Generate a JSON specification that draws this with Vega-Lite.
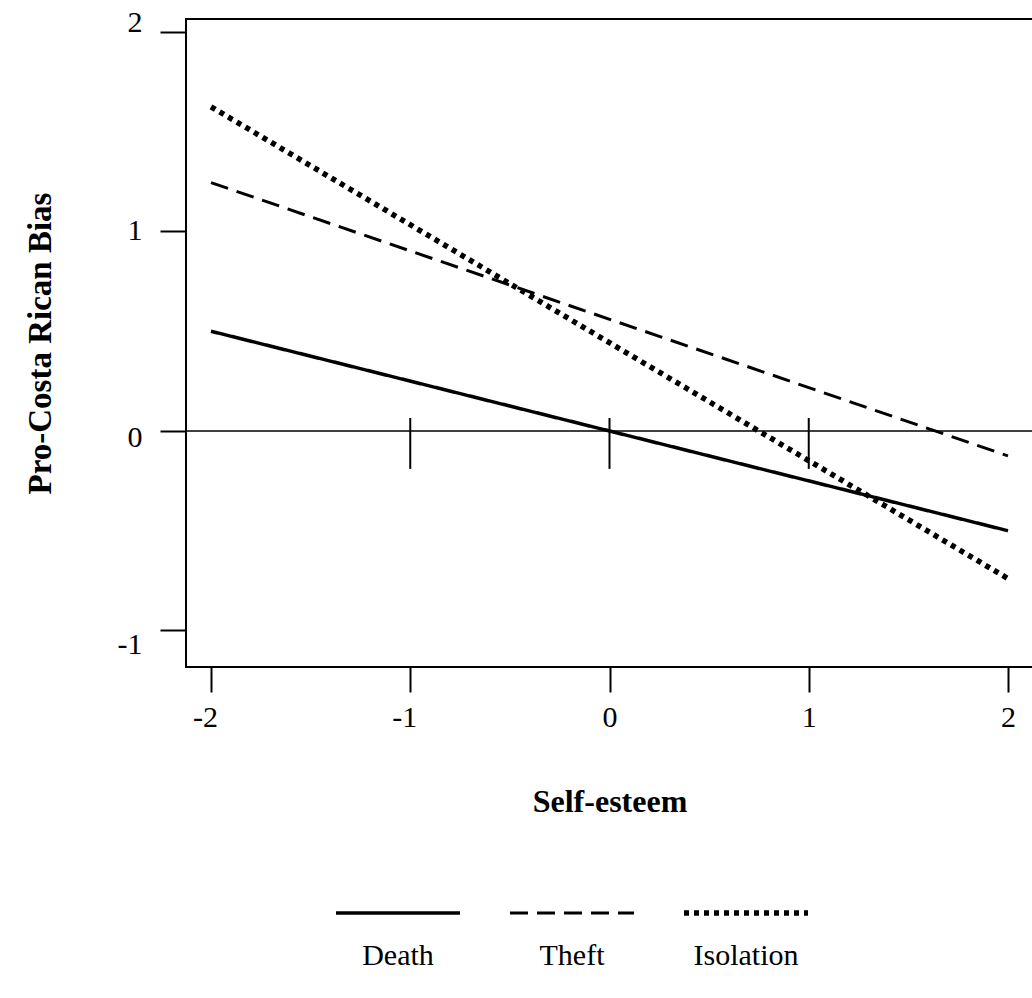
{
  "$schema": "https://vega.github.io/schema/vega-lite/v6.json",
  "autosize": {"type": "pad"},
  "padding": {"left": 23, "top": 6, "right": 0, "bottom": 0},
  "background": "white",
  "bounds": "flush",
  "spacing": 200,
  "resolve": {"scale": {"x": "independent", "y": "independent"}},
  "config": {
    "font": "Liberation Serif",
    "view": {"stroke": "black", "strokeWidth": 2},
    "axis": {
      "domain": false,
      "grid": false,
      "tickColor": "black",
      "tickWidth": 2,
      "labelColor": "black",
      "titleColor": "black",
      "labelFont": "Liberation Serif",
      "titleFont": "Liberation Serif",
      "labelFontSize": 30,
      "titleFontSize": 32,
      "titleFontWeight": "bold",
      "labelOverlap": false,
      "labelFlush": false,
      "labelBound": false,
      "labelExpr": "'' + datum.value"
    }
  },
  "datasets": {
    "lines": [
      {"condition": "Death", "selfEsteem": -2, "bias": 0.5},
      {"condition": "Death", "selfEsteem": 2, "bias": -0.5},
      {"condition": "Theft", "selfEsteem": -2, "bias": 1.245},
      {"condition": "Theft", "selfEsteem": 2, "bias": -0.125},
      {"condition": "Isolation", "selfEsteem": -2, "bias": 1.625},
      {"condition": "Isolation", "selfEsteem": 2, "bias": -0.74}
    ],
    "zeroLine": [
      {"bias": 0}
    ],
    "zeroTicks": [
      {"selfEsteem": -1},
      {"selfEsteem": 0},
      {"selfEsteem": 1}
    ],
    "legendItems": [
      {"condition": "Death"},
      {"condition": "Theft"},
      {"condition": "Isolation"}
    ]
  },
  "vconcat": [
    {
      "width": 847,
      "height": 648,
      "layer": [
        {
          "data": {"name": "zeroLine"},
          "mark": {"type": "rule", "color": "black", "strokeWidth": 1.5},
          "encoding": {
            "y": {"field": "bias", "type": "quantitative"}
          }
        },
        {
          "data": {"name": "zeroTicks"},
          "mark": {"type": "rule", "color": "black", "strokeWidth": 2},
          "encoding": {
            "x": {"field": "selfEsteem", "type": "quantitative"},
            "y": {"datum": 0.065, "type": "quantitative"},
            "y2": {"datum": -0.19}
          }
        },
        {
          "data": {"name": "lines"},
          "mark": {"type": "line", "strokeCap": "butt", "color": "black"},
          "encoding": {
            "x": {
              "field": "selfEsteem",
              "type": "quantitative",
              "scale": {"domain": [-2.1255, 2.1255], "nice": false, "zero": false},
              "axis": {
                "title": "Self-esteem",
                "values": [-2, -1, 0, 1, 2],
                "tickSize": 25,
                "labelPadding": 10,
                "labelOffset": {"condition": {"test": "datum.value < 0", "value": -6}, "value": 0},
                "titlePadding": 54
              }
            },
            "y": {
              "field": "bias",
              "type": "quantitative",
              "scale": {"domain": [-1.183, 2.065], "nice": false, "zero": false},
              "axis": {
                "title": "Pro-Costa Rican Bias",
                "titleFontSize": 33,
                "values": [-1, 0, 1, 2],
                "tickSize": 26,
                "labelAngle": 0,
                "labelAlign": "right",
                "labelBaseline": "middle",
                "labelPadding": 18,
                "labelOffset": {
                  "condition": [
                    {"test": "datum.value == 2", "value": -9},
                    {"test": "datum.value == 1", "value": -1},
                    {"test": "datum.value == 0", "value": 7}
                  ],
                  "value": 14
                },
                "titlePadding": 60
              }
            },
            "detail": {"field": "condition"},
            "strokeDash": {
              "field": "condition",
              "type": "nominal",
              "scale": {"domain": ["Death", "Theft", "Isolation"], "range": [[1, 0], [18, 9], [5, 5]]},
              "legend": null
            },
            "strokeWidth": {
              "field": "condition",
              "type": "nominal",
              "scale": {"type": "ordinal", "domain": ["Death", "Theft", "Isolation"], "range": [3.5, 3, 5.5]},
              "legend": null
            }
          }
        }
      ]
    },
    {
      "width": 847,
      "height": 132,
      "view": {"stroke": null},
      "data": {"name": "legendItems"},
      "layer": [
        {
          "mark": {"type": "rule", "xOffset": -62, "x2Offset": 62, "strokeCap": "butt", "color": "black"},
          "encoding": {
            "x": {
              "field": "condition",
              "type": "nominal",
              "scale": {"type": "point", "domain": ["Death", "Theft", "Isolation"], "range": [212, 560], "padding": 0},
              "axis": null
            },
            "x2": {"field": "condition"},
            "y": {
              "datum": "line",
              "type": "nominal",
              "scale": {"type": "point", "domain": ["line", "label"], "range": [46, 89], "padding": 0},
              "axis": null
            },
            "strokeDash": {
              "field": "condition",
              "type": "nominal",
              "scale": {"domain": ["Death", "Theft", "Isolation"], "range": [[1, 0], [17, 9], [6, 6]]},
              "legend": null
            },
            "strokeWidth": {
              "field": "condition",
              "type": "nominal",
              "scale": {"type": "ordinal", "domain": ["Death", "Theft", "Isolation"], "range": [4, 3.5, 6]},
              "legend": null
            }
          }
        },
        {
          "mark": {"type": "text", "fontSize": 30, "font": "Liberation Serif", "color": "black", "align": "center", "baseline": "middle"},
          "encoding": {
            "x": {"field": "condition", "type": "nominal"},
            "y": {"datum": "label", "type": "nominal"},
            "text": {"field": "condition"}
          }
        }
      ]
    }
  ]
}
